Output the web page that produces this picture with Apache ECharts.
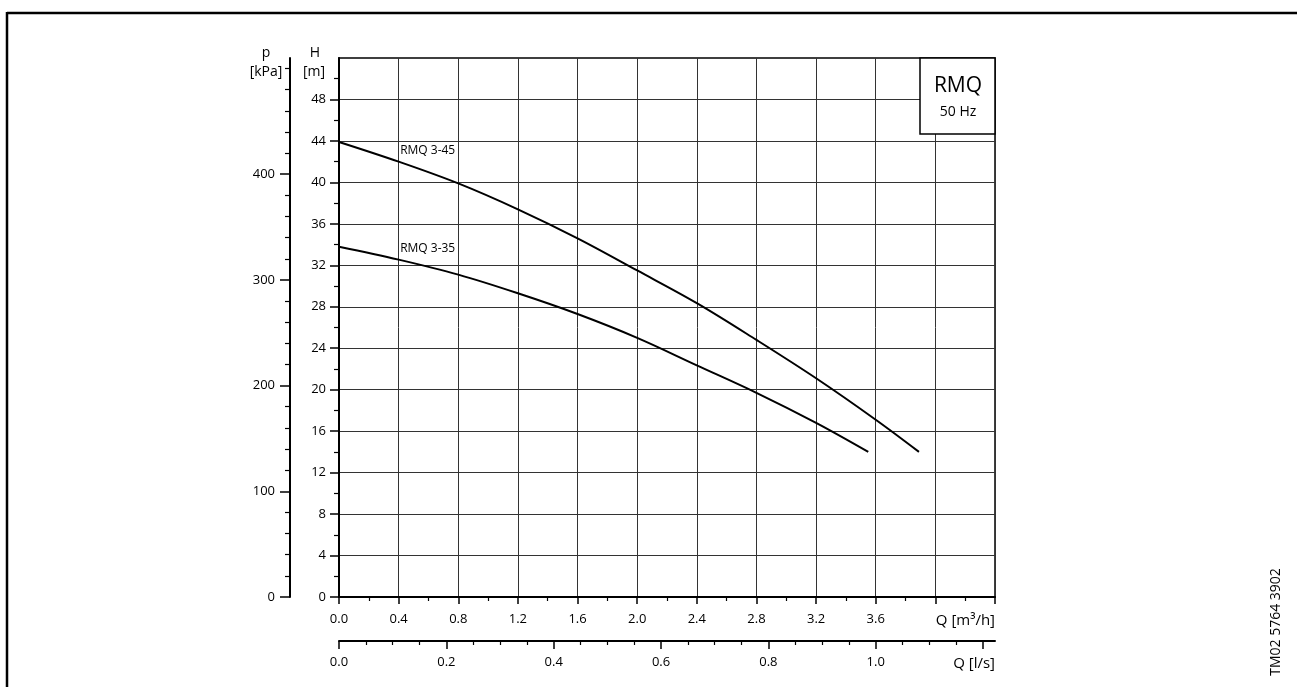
<!DOCTYPE html>
<html><head><meta charset="utf-8">
<script src="https://cdn.jsdelivr.net/npm/echarts@6/dist/echarts.min.js"></script>
<style>html,body{margin:0;padding:0;background:#fff}#c{width:1297px;height:687px}</style>
</head><body><div id="c"></div>
<script>
// ---- data ----
const q45 = [0, 0.4, 0.8, 1.2, 1.6, 2.0, 2.4, 2.8, 3.2, 3.6, 3.89];
const h45 = [43.9, 42.0, 39.9, 37.4, 34.6, 31.5, 28.35, 24.8, 21.1, 17.1, 14.0];
const q35 = [0, 0.4, 0.8, 1.2, 1.6, 2.0, 2.4, 2.8, 3.2, 3.55];
const h35 = [33.8, 32.55, 31.1, 29.3, 27.3, 25.0, 22.35, 19.7, 16.8, 14.0];
const curveNames = ['RMQ 3-45', 'RMQ 3-35'];
const labelPos45 = [0.41, 43.05];
const labelPos35 = [0.41, 33.6];

const headMajor = [0, 4, 8, 12, 16, 20, 24, 28, 32, 36, 40, 44, 48];
const headMinor = [2, 6, 10, 14, 18, 22, 26, 30, 34, 38, 42, 46, 50];
const pMajor = [0, 100, 200, 300, 400];
const pMinor = [20, 40, 60, 80, 120, 140, 160, 180, 220, 240, 260, 280, 320, 340, 360, 380, 420, 440, 460, 480, 500];
const lsMajor = [0, 0.2, 0.4, 0.6, 0.8, 1.0, 1.2];
const lsLabels = [0, 0.2, 0.4, 0.6, 0.8, 1.0];
const lsMinor = [0.05, 0.1, 0.15, 0.25, 0.3, 0.35, 0.45, 0.5, 0.55, 0.65, 0.7, 0.75, 0.85, 0.9, 0.95, 1.05, 1.1, 1.15];

const H_MAX = 52, Q_MAX = 4.4;
const P_MAX = H_MAX * 9.80665;       // kPa equivalent of head
const LS_MAX = Q_MAX / 3.6;          // l/s equivalent of flow

const FONT = 'Open Sans';
const black = '#000';
const LBL = 13;

function pairs(xs, ys) { return xs.map((x, i) => [x, ys[i]]); }

const chart = echarts.init(document.getElementById('c'), null, {renderer: 'canvas'});

const lsLabelVals = lsLabels.concat([LS_MAX]);
const axisLineStyle = {show: true, onZero: false, lineStyle: {color: black, width: 2}};
const noLine = {show: false, onZero: false};

chart.setOption({
  animation: false,
  backgroundColor: '#fff',
  textStyle: {fontFamily: FONT},
  grid: {left: 339, top: 58, width: 656, height: 539, show: true, borderColor: black, borderWidth: 1.5, backgroundColor: 'transparent'},
  xAxis: [
    {
      type: 'value', min: 0, max: Q_MAX, interval: 0.4, position: 'bottom',
      axisLine: axisLineStyle,
      axisTick: {show: true, length: 7, lineStyle: {color: black, width: 1.5}},
      minorTick: {show: true, splitNumber: 2, length: 4, lineStyle: {color: black, width: 1.2}},
      splitLine: {show: true, lineStyle: {color: '#333', width: 1}},
      axisLabel: {
        color: black, fontSize: LBL, fontFamily: FONT, margin: 16, showMaxLabel: true, alignMaxLabel: 'right',
        formatter: v => {
          const r = Math.round(v * 10) / 10;
          if (r === 4.4) return '{n|Q [m³/h]}';
          if (r === 4.0) return '';
          return r.toFixed(1);
        },
        rich: {n: {fontSize: 15, color: black, fontFamily: FONT}}
      }
    },
    {
      type: 'value', min: 0, max: LS_MAX, position: 'bottom', offset: 44,
      axisLine: axisLineStyle,
      axisTick: {show: true, length: 8, customValues: lsMajor, lineStyle: {color: black, width: 1.5}},
      splitLine: {show: false},
      axisLabel: {
        color: black, fontSize: LBL, fontFamily: FONT, margin: 15, customValues: lsLabelVals, showMaxLabel: true, alignMaxLabel: 'right',
        formatter: v => {
          if (Math.abs(v - LS_MAX) < 1e-6) return '{n|Q [l/s]}';
          return (Math.round(v * 10) / 10).toFixed(1);
        },
        rich: {n: {fontSize: 15, color: black, fontFamily: FONT}}
      }
    },
    {
      type: 'value', min: 0, max: LS_MAX, position: 'bottom', offset: 44,
      axisLine: noLine,
      axisTick: {show: true, length: 4, customValues: lsMinor, lineStyle: {color: black, width: 1.2}},
      splitLine: {show: false},
      axisLabel: {show: false}
    }
  ],
  yAxis: [
    {
      type: 'value', min: 0, max: H_MAX, interval: 4, position: 'left',
      axisLine: axisLineStyle,
      axisTick: {show: true, length: 9, customValues: headMajor, lineStyle: {color: black, width: 1.5}},
      splitLine: {show: true, lineStyle: {color: '#333', width: 1}},
      axisLabel: {color: black, fontSize: LBL, fontFamily: FONT, margin: 13, customValues: headMajor, formatter: v => String(v)}
    },
    {
      type: 'value', min: 0, max: H_MAX, position: 'left', offset: 0,
      axisLine: noLine,
      axisTick: {show: true, length: 5, customValues: headMinor, lineStyle: {color: black, width: 1.2}},
      splitLine: {show: false},
      axisLabel: {show: false}
    },
    {
      type: 'value', min: 0, max: P_MAX, position: 'left', offset: 49,
      axisLine: axisLineStyle,
      axisTick: {show: true, length: 10, customValues: pMajor, lineStyle: {color: black, width: 1.5}},
      splitLine: {show: false},
      axisLabel: {color: black, fontSize: LBL, fontFamily: FONT, margin: 15, customValues: pMajor, formatter: v => String(v)}
    },
    {
      type: 'value', min: 0, max: P_MAX, position: 'left', offset: 49,
      axisLine: noLine,
      axisTick: {show: true, length: 5, customValues: pMinor, lineStyle: {color: black, width: 1.2}},
      splitLine: {show: false},
      axisLabel: {show: false}
    }
  ],
  series: [
    {
      name: curveNames[0], type: 'line', xAxisIndex: 0, yAxisIndex: 0, smooth: 0.35, showSymbol: false,
      lineStyle: {color: black, width: 2}, data: pairs(q45, h45),
      markPoint: {symbol: 'circle', symbolSize: 0, silent: true, data: [{coord: labelPos45}],
        label: {show: true, position: 'right', distance: 0, formatter: curveNames[0], color: black, fontSize: 12, fontFamily: FONT}}
    },
    {
      name: curveNames[1], type: 'line', xAxisIndex: 0, yAxisIndex: 0, smooth: 0.35, showSymbol: false,
      lineStyle: {color: black, width: 2}, data: pairs(q35, h35),
      markPoint: {symbol: 'circle', symbolSize: 0, silent: true, data: [{coord: labelPos35}],
        label: {show: true, position: 'right', distance: 0, formatter: curveNames[1], color: black, fontSize: 12, fontFamily: FONT}}
    }
  ],
  graphic: [
    {type: 'line', shape: {x1: 7, y1: 13, x2: 1297, y2: 13}, style: {stroke: black, lineWidth: 2.5}},
    {type: 'line', shape: {x1: 7, y1: 12, x2: 7, y2: 687}, style: {stroke: black, lineWidth: 2.5}},
    {type: 'rect', shape: {x: 920, y: 58, width: 75, height: 76}, style: {fill: '#fff', stroke: black, lineWidth: 1.5}, z: 10},
    {type: 'text', x: 958, y: 86, z: 11, style: {text: 'RMQ', font: '21px "Open Sans"', fill: black, align: 'center', verticalAlign: 'middle'}},
    {type: 'text', x: 958, y: 112, z: 11, style: {text: '50 Hz', font: '14px "Open Sans"', fill: black, align: 'center', verticalAlign: 'middle'}},
    {type: 'text', x: 315, y: 53, style: {text: 'H', font: '14px "Open Sans"', fill: black, align: 'center', verticalAlign: 'middle'}},
    {type: 'text', x: 314, y: 72, style: {text: '[m]', font: '14px "Open Sans"', fill: black, align: 'center', verticalAlign: 'middle'}},
    {type: 'text', x: 266, y: 53, style: {text: 'p', font: '14px "Open Sans"', fill: black, align: 'center', verticalAlign: 'middle'}},
    {type: 'text', x: 266, y: 72, style: {text: '[kPa]', font: '14px "Open Sans"', fill: black, align: 'center', verticalAlign: 'middle'}},
    {type: 'text', x: 1276, y: 622, rotation: Math.PI / 2, style: {text: 'TM02 5764 3902', font: '14px "Open Sans"', fill: black, align: 'center', verticalAlign: 'middle'}}
  ]
});
</script>
</body></html>
